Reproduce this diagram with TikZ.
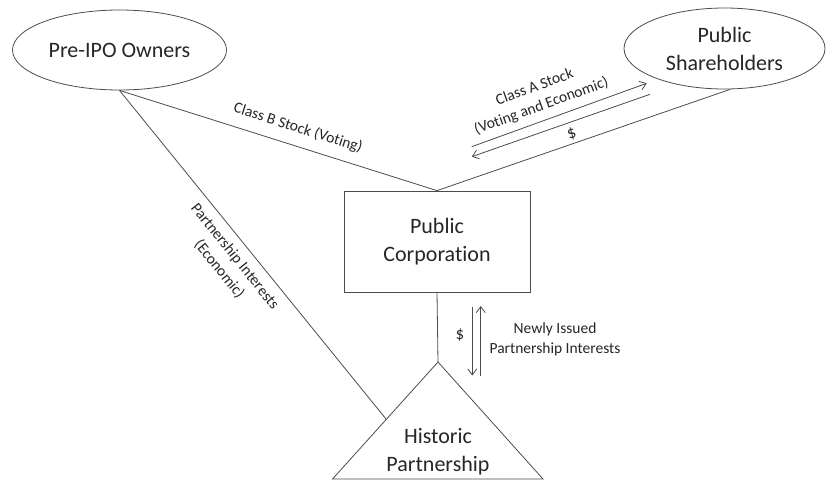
\documentclass[tikz,border=0pt]{standalone}
\usepackage{fontspec}
\setmainfont{Carlito}[Ligatures=NoCommon]
\usetikzlibrary{shapes.geometric,arrows.meta,calc}
\begin{document}
\begin{tikzpicture}[x=1pt,y=-1pt,
  ln/.style={draw=black!70, line width=0.8pt},
  big/.style={font=\fontsize{22}{28}\selectfont, text=black!85, align=center},
  small/.style={font=\fontsize{15.5}{20}\selectfont, text=black!85, align=center, inner sep=0pt},
  dollar/.style={font=\fontsize{17}{20}\selectfont, text=black!85, inner sep=0pt},
  arr/.style={ln, -{Straight Barb[length=6pt,width=9pt]}}
]
\useasboundingbox (0,0) rectangle (826,480);
% entities
\node[ln, ellipse, minimum width=214pt, minimum height=80pt, inner sep=0pt, big] (pre) at (119.5,50) {Pre-IPO Owners};
\node[ln, ellipse, minimum width=201pt, minimum height=81pt, inner sep=0pt, big] (pub) at (724.5,48.5) {Public\\Shareholders};
\node[ln, rectangle, minimum width=186pt, minimum height=101pt, inner sep=0pt, big] (corp) at (437,241.5) {Public\\Corporation};
\coordinate (hpA) at (438,362);
\coordinate (hpL) at (332.5,479);
\coordinate (hpR) at (543,479);
\draw[ln] (hpA) -- (hpL) -- (hpR) -- cycle;
\node[big] (hist) at (438,451.5) {Historic\\Partnership};
% connectors
\coordinate (hpE) at ($(hpA)!0.49!(hpL)$);
\draw[ln] (pre.south) -- (corp.north);
\draw[ln] (pub.278) -- (corp.north);
\draw[ln] (corp.south) -- (hpA);
\draw[ln] (pre.south) -- (hpE);
% flow arrows
\coordinate (a1s) at (471.7,146.7);
\coordinate (a1e) at (646.7,83.3);
\coordinate (a2s) at (650,94.3);
\coordinate (a2e) at (471.7,156.7);
\draw[arr] (a1s) -- (a1e);
\draw[arr] (a2s) -- (a2e);
\coordinate (v1s) at (472.3,307);
\coordinate (v1e) at (472.3,375.5);
\coordinate (v2s) at (480.7,375.5);
\coordinate (v2e) at (480.7,306);
\draw[arr] (v1s) -- (v1e);
\draw[arr] (v2s) -- (v2e);
% labels
\node[small, rotate=-17.6] (lblB) at (298,128) {Class B Stock (Voting)};
\node[small, rotate=20] (lblA) at (538,97) {Class A Stock\\(Voting and Economic)};
\node[dollar, rotate=19.5] (lblAd) at (571.7,134) {\$};
\node[small, rotate=-51.2] (lblP) at (227,263) {Partnership Interests\\(Economic)};
\node[dollar] (lblVd) at (460,335) {\$};
\node[small] (lblV) at (555,339.5) {Newly Issued\\Partnership Interests};
\end{tikzpicture}
\end{document}
